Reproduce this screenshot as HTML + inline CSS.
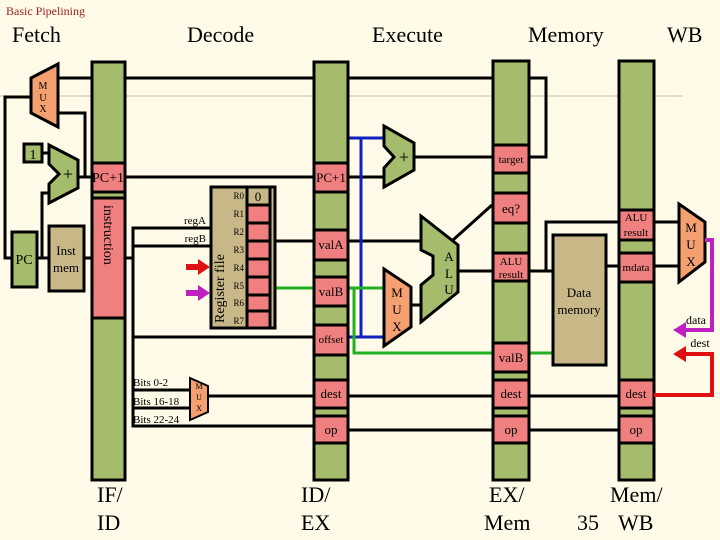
<!DOCTYPE html>
<html><head><meta charset="utf-8"><style>
html,body{margin:0;padding:0;background:#fffbe8;}
svg{display:block;font-family:"Liberation Serif",serif;}
</style></head><body>
<svg width="720" height="540" viewBox="0 0 720 540" xmlns="http://www.w3.org/2000/svg">
<rect width="720" height="540" fill="#fffbe8"/>
<line x1="0" y1="96" x2="683" y2="96" stroke="#c8c0a0" stroke-width="1"/>
<text x="6" y="15" font-size="12" fill="#a02020">Basic Pipelining</text>
<g font-size="22" fill="#000">
<text x="12" y="42">Fetch</text><text x="187" y="42">Decode</text><text x="372" y="42">Execute</text>
<text x="528" y="42">Memory</text><text x="667" y="42">WB</text>
<text x="97" y="502">IF/</text><text x="97" y="530">ID</text>
<text x="301" y="502">ID/</text><text x="301" y="530">EX</text>
<text x="489" y="502">EX/</text><text x="484" y="530">Mem</text>
<text x="610" y="502">Mem/</text><text x="577" y="530">35</text><text x="618" y="530">WB</text>
</g>
<!-- wires -->
<g stroke="#000" stroke-width="3" fill="none">
<polyline points="58,78 546,78 546,157 529,157"/>
<polyline points="30,97 5,97 5,258 12,258"/>
<polyline points="58,113 85,113 85,177"/>
<line x1="42" y1="153" x2="50" y2="153"/>
<polyline points="37,258 42,258 42,193 50,193"/>
<line x1="37" y1="258" x2="49" y2="258"/>
<line x1="84" y1="258" x2="92" y2="258"/>
<line x1="78" y1="177" x2="313" y2="177"/>
<polyline points="125,258 133,258"/>
<polyline points="210,228 133,228 133,426 313,426"/>
<line x1="133" y1="246" x2="210" y2="246"/>
<line x1="133" y1="337" x2="313" y2="337"/>
<line x1="133" y1="390" x2="190" y2="390"/>
<line x1="133" y1="408" x2="190" y2="408"/>
<line x1="208" y1="396" x2="313" y2="396"/>
<line x1="276" y1="241" x2="313" y2="241"/>
<line x1="348" y1="177" x2="384" y2="177"/>
<line x1="414" y1="157" x2="492" y2="157"/>
<line x1="348" y1="241" x2="421" y2="241"/>
<line x1="412" y1="305" x2="421" y2="305"/>
<line x1="458" y1="271" x2="492" y2="271"/>
<line x1="453" y1="240" x2="492" y2="205"/>
<line x1="529" y1="271" x2="552" y2="271"/>
<polyline points="546,271 546,222 618,222"/>
<line x1="607" y1="266" x2="618" y2="266"/>
<line x1="654" y1="222" x2="679" y2="222"/>
<line x1="654" y1="266" x2="679" y2="266"/>
<line x1="348" y1="396" x2="492" y2="396"/>
<line x1="529" y1="396" x2="618" y2="396"/>
<line x1="348" y1="430" x2="492" y2="430"/>
<line x1="529" y1="430" x2="618" y2="430"/>
</g>
<g stroke="#1020c0" stroke-width="3" fill="none">
<polyline points="348,138 384,138"/>
<polyline points="361,138 361,337 384,337"/>
<line x1="348" y1="337" x2="361" y2="337"/>
</g>
<g stroke="#20b020" stroke-width="3" fill="none">
<line x1="276" y1="288" x2="313" y2="288"/>
<line x1="348" y1="288" x2="384" y2="288"/>
<polyline points="354,288 354,353 552,353"/>
</g>
<!-- pipeline bars -->
<g stroke="#000" stroke-width="3" fill="#a4bc6c">
<rect x="92" y="62" width="33" height="418"/>
<rect x="314" y="62" width="34" height="418"/>
<rect x="493" y="61" width="36" height="419"/>
<rect x="619" y="61" width="35" height="419"/>
</g>
<g stroke="#000" stroke-width="3" fill="#f08080">
<rect x="92" y="163" width="33" height="29"/>
<rect x="92" y="198" width="33" height="120"/>
<rect x="314" y="163" width="34" height="29"/>
<rect x="314" y="230" width="34" height="30"/>
<rect x="314" y="277" width="34" height="29"/>
<rect x="314" y="325" width="34" height="30"/>
<rect x="314" y="380" width="34" height="28"/>
<rect x="314" y="416" width="34" height="27"/>
<rect x="493" y="145" width="36" height="28"/>
<rect x="493" y="193" width="36" height="30"/>
<rect x="493" y="253" width="36" height="28"/>
<rect x="493" y="343" width="36" height="29"/>
<rect x="493" y="380" width="36" height="28"/>
<rect x="493" y="416" width="36" height="27"/>
<rect x="619" y="210" width="35" height="30"/>
<rect x="619" y="253" width="35" height="29"/>
<rect x="619" y="380" width="35" height="28"/>
<rect x="619" y="416" width="35" height="27"/>
</g>
<!-- components -->
<polygon points="31,78 58,64 58,127 31,113" fill="#f4a070" stroke="#000" stroke-width="3"/>
<g font-size="10" text-anchor="middle"><text x="43" y="89">M</text><text x="43" y="101">U</text><text x="43" y="112">X</text></g>
<rect x="24" y="144" width="18" height="18" fill="#a4bc6c" stroke="#000" stroke-width="3"/>
<text x="33" y="159" font-size="14" text-anchor="middle">1</text>
<polygon points="49,145 78,160 78,188 49,203 49,184 59,174 49,164" fill="#a4bc6c" stroke="#000" stroke-width="3"/>
<text x="68" y="180" font-size="18" text-anchor="middle">+</text>
<rect x="12" y="232" width="25" height="55" fill="#a4bc6c" stroke="#000" stroke-width="3"/>
<text x="24" y="264" font-size="14" text-anchor="middle">PC</text>
<rect x="49" y="226" width="35" height="65" fill="#c8b888" stroke="#000" stroke-width="3"/>
<text x="66" y="255" font-size="13" text-anchor="middle">Inst</text><text x="66" y="272" font-size="13" text-anchor="middle">mem</text>
<text transform="translate(104,205) rotate(90)" font-size="14">instruction</text>
<text x="108" y="182" font-size="14" text-anchor="middle">PC+1</text>
<!-- register file -->
<rect x="211" y="187" width="64" height="141" fill="#c8b888" stroke="#000" stroke-width="3"/>
<line x1="270" y1="187" x2="270" y2="328" stroke="#000" stroke-width="3"/>
<rect x="247" y="187" width="23" height="18" fill="#c8b888" stroke="#000" stroke-width="3"/>
<g fill="#f08080" stroke="#000" stroke-width="3">
<rect x="247" y="205" width="23" height="18"/><rect x="247" y="223" width="23" height="18"/>
<rect x="247" y="241" width="23" height="18"/><rect x="247" y="259" width="23" height="18"/>
<rect x="247" y="277" width="23" height="18"/><rect x="247" y="295" width="23" height="16"/>
<rect x="247" y="311" width="23" height="17"/>
</g>
<text x="258" y="201" font-size="13" text-anchor="middle">0</text>
<g font-size="9" text-anchor="end"><text x="244" y="199">R0</text><text x="244" y="217">R1</text><text x="244" y="235">R2</text><text x="244" y="253">R3</text><text x="244" y="271">R4</text><text x="244" y="289">R5</text><text x="244" y="306">R6</text><text x="244" y="324">R7</text></g>
<text transform="translate(224,323) rotate(-90)" font-size="14">Register file</text>
<text x="206" y="224" font-size="11" text-anchor="end">regA</text>
<text x="206" y="242" font-size="11" text-anchor="end">regB</text>
<polygon points="186,264 198,264 198,259 210,267 198,275 198,270 186,270" fill="#e01010"/>
<polygon points="186,290 198,290 198,285 210,293 198,301 198,296 186,296" fill="#c020c0"/>
<!-- bits mux -->
<polygon points="190,378 208,386 208,412 190,420" fill="#f4a070" stroke="#000" stroke-width="2"/>
<g font-size="8" text-anchor="middle"><text x="199" y="389">M</text><text x="199" y="400">U</text><text x="199" y="411">X</text></g>
<g font-size="11"><text x="133" y="386">Bits 0-2</text><text x="133" y="405">Bits 16-18</text><text x="133" y="423">Bits 22-24</text></g>
<!-- ID/EX labels -->
<g font-size="13" text-anchor="middle">
<text x="331" y="182">PC+1</text><text x="331" y="249">valA</text><text x="331" y="296">valB</text>
<text x="331" y="343" font-size="11">offset</text><text x="331" y="398">dest</text><text x="331" y="434">op</text>
<text x="511" y="163" font-size="11">target</text><text x="511" y="213">eq?</text>
<text x="511" y="265" font-size="11">ALU</text><text x="511" y="278" font-size="11">result</text>
<text x="511" y="362">valB</text><text x="511" y="398">dest</text><text x="511" y="434">op</text>
<text x="636" y="221" font-size="11">ALU</text><text x="636" y="236" font-size="11">result</text>
<text x="636" y="271" font-size="11">mdata</text><text x="636" y="398">dest</text><text x="636" y="434">op</text>
</g>
<!-- EX adder -->
<polygon points="384,126 414,143 414,170 384,187 384,168 394,157 384,146" fill="#a4bc6c" stroke="#000" stroke-width="3"/>
<text x="404" y="163" font-size="18" text-anchor="middle">+</text>
<!-- ALU -->
<polygon points="421,216 458,245 458,292 421,322 421,285 433,275 433,256 421,250" fill="#a4bc6c" stroke="#000" stroke-width="3"/>
<g font-size="13" text-anchor="middle"><text x="449" y="261">A</text><text x="449" y="278">L</text><text x="449" y="294">U</text></g>
<!-- EX mux -->
<polygon points="384,269 411,287 411,327 384,346" fill="#f4a070" stroke="#000" stroke-width="3"/>
<g font-size="13" text-anchor="middle"><text x="397" y="297">M</text><text x="397" y="314">U</text><text x="397" y="331">X</text></g>
<!-- data memory -->
<rect x="553" y="235" width="53" height="130" fill="#c8b888" stroke="#000" stroke-width="3"/>
<text x="579" y="297" font-size="13" text-anchor="middle">Data</text><text x="579" y="314" font-size="13" text-anchor="middle">memory</text>
<!-- WB mux -->
<polygon points="679,204 705,222 705,262 679,282" fill="#f4a070" stroke="#000" stroke-width="3"/>
<g font-size="13" text-anchor="middle"><text x="691" y="232">M</text><text x="691" y="249">U</text><text x="691" y="266">X</text></g>
<polyline points="705,240 712,240 712,330 684,330" fill="none" stroke="#c020c0" stroke-width="4"/>
<polygon points="673,330 686,322 686,338" fill="#c020c0"/>
<text x="696" y="324" font-size="12" text-anchor="middle">data</text>
<polyline points="654,395 712,395 712,354 684,354" fill="none" stroke="#e01010" stroke-width="4"/>
<polygon points="673,354 686,346 686,362" fill="#e01010"/>
<text x="700" y="347" font-size="12" text-anchor="middle">dest</text>
</svg>
</body></html>
